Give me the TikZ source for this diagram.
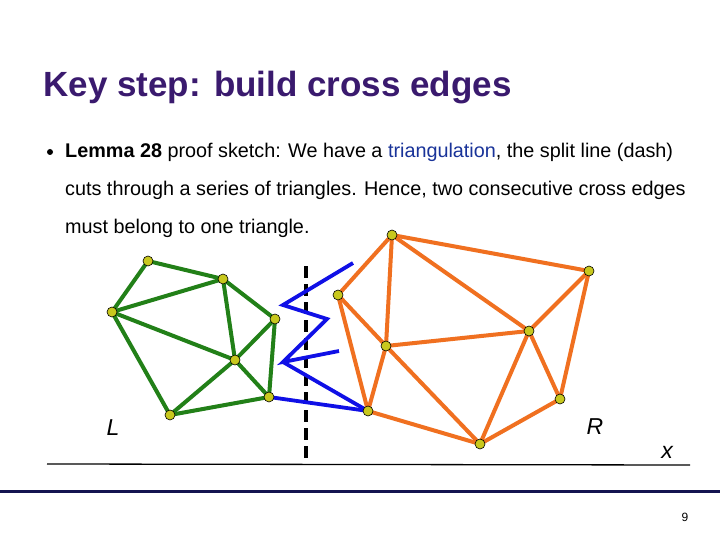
\documentclass[tikz,border=0pt]{standalone}
\usepackage{fontspec}
\setmainfont{Liberation Sans}
\definecolor{titlec}{RGB}{58,26,110}
\definecolor{footc}{RGB}{20,20,80}
\definecolor{gc}{RGB}{34,128,24}
\definecolor{oc}{RGB}{240,112,32}
\definecolor{bc}{RGB}{16,16,230}
\definecolor{vc}{RGB}{200,200,30}
\begin{document}
\begin{tikzpicture}[x=1pt,y=-1pt,
  gedge/.style={draw=gc,line width=4pt},
  oedge/.style={draw=oc,line width=4pt},
  bedge/.style={draw=bc,line width=3.8pt},
  vtx/.style={circle,draw=black,line width=0.6pt,fill=vc,inner sep=0pt,minimum size=10pt}]
\useasboundingbox[fill=white] (0,0) rectangle (720,540);
\node[anchor=west,font=\bfseries\fontsize{35}{38}\selectfont,text=titlec] (title) at (40,88) {Key step: build cross edges};
\node[circle,fill=black,inner sep=0pt,minimum size=6pt] (bul) at (50,152) {};
\node[anchor=west,font=\fontsize{19.8}{22}\selectfont,inner sep=0pt] (l1) at (65,152) {\textbf{Lemma 28} proof sketch: We have a \textcolor[rgb]{0.1,0.2,0.6}{triangulation}, the split line (dash)};
\node[anchor=west,font=\fontsize{19.8}{22}\selectfont,inner sep=0pt] (l2) at (65,190) {cuts through a series of triangles. Hence, two consecutive cross edges};
\node[anchor=west,font=\fontsize{19.8}{22}\selectfont,inner sep=0pt] (l3) at (65,228) {must belong to one triangle.};
% dashed split line
\coordinate (d1) at (306,266); \coordinate (d2) at (306,458);
\draw[line width=3.5pt,black,dash pattern=on 12pt off 6pt] (d1)--(d2);
% x axis
\coordinate (a1) at (47,464); \coordinate (a2) at (690,465);
\draw[line width=1.3pt] (a1)--(a2);
\node[font=\itshape\fontsize{23}{25}\selectfont] (xl) at (667,452) {x};
\node[font=\itshape\fontsize{23}{25}\selectfont] (Ll) at (113,428) {L};
\node[font=\itshape\fontsize{23}{25}\selectfont] (Rl) at (595,427) {R};
% vertices
\foreach \n/\p in {g1/{148,261},g2/{223,279},g3/{112,312},g4/{275,319},g5/{235,360},g6/{269,397},g7/{170,415},
  o1/{392,235},o2/{589,271},o3/{338,295},o4/{529,331},o5/{386,346},o6/{560,399},o7/{368,411},o8/{480,444}}
  \coordinate (\n) at (\p);
\foreach \a/\b in {g1/g2,g1/g3,g3/g2,g2/g4,g2/g5,g3/g5,g3/g7,g4/g5,g4/g6,g5/g6,g5/g7,g7/g6}
  \draw[gedge] (\a)--(\b);
\foreach \a/\b in {o1/o2,o1/o3,o1/o5,o1/o4,o2/o4,o2/o6,o3/o5,o3/o7,o5/o4,o5/o7,o5/o8,o4/o8,o4/o6,o6/o8,o7/o8}
  \draw[oedge] (\a)--(\b);
% blue zigzag
\coordinate (b1) at (353,263); \coordinate (b2) at (283,305); \coordinate (b3) at (327,319);
\coordinate (b4) at (283,362); \coordinate (b5) at (339,351);
\draw[bedge,line join=miter] (b1)--(b2)--(b3)--(b4)--(b5);
\draw[bedge] (b4)--(o7);
\draw[bedge] (g6)--(o7);
\foreach \n in {g1,g2,g3,g4,g5,g6,g7,o1,o2,o3,o4,o5,o6,o7,o8}
  \node[vtx] (v\n) at (\n) {};
% footer
\coordinate (f1) at (0,491); \coordinate (f2) at (720,491);
\draw[line width=3pt,footc] (f1)--(f2);
\node[font=\fontsize{12}{13}\selectfont] (pg) at (685,517) {9};
\end{tikzpicture}
\end{document}
